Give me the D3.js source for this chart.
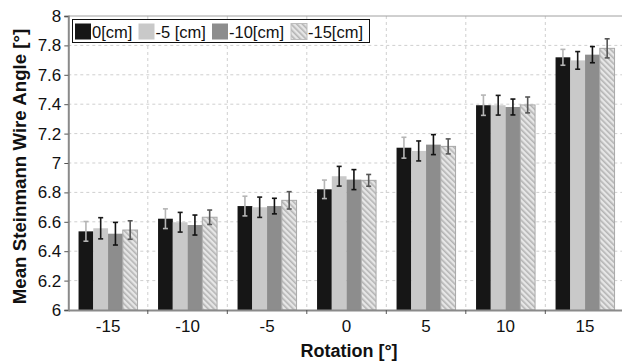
<!DOCTYPE html>
<html><head><meta charset="utf-8">
<script src="https://cdn.jsdelivr.net/npm/d3@7/dist/d3.min.js"></script>
<style>
html,body{margin:0;padding:0;background:#fff;}
svg{display:block;font-family:"Liberation Sans",Arial,sans-serif;}
</style></head>
<body>
<svg id="chart" width="622" height="364"></svg>
<script>
const categories = ["-15","-10","-5","0","5","10","15"];
const seriesNames = ["0[cm]","-5 [cm]","-10[cm]","-15[cm]"];
const values0  = [6.535, 6.621, 6.707, 6.821, 7.104, 7.393, 7.719];
const values5  = [6.556, 6.597, 6.699, 6.910, 7.082, 7.393, 7.698];
const values10 = [6.519, 6.578, 6.707, 6.887, 7.125, 7.381, 7.737];
const values15 = [6.544, 6.631, 6.746, 6.882, 7.113, 7.395, 7.780];
const err0  = [0.067, 0.067, 0.067, 0.063, 0.071, 0.069, 0.054];
const err5  = [0.072, 0.067, 0.069, 0.067, 0.068, 0.067, 0.060];
const err10 = [0.077, 0.068, 0.053, 0.068, 0.068, 0.054, 0.055];
const err15 = [0.063, 0.049, 0.059, 0.040, 0.051, 0.054, 0.065];
const yTicks = [6,6.2,6.4,6.6,6.8,7,7.2,7.4,7.6,7.8,8];

const seriesValues = [values0, values5, values10, values15];
const seriesErrors = [err0, err5, err10, err15];
const fills = ["#161616","#c9c9c9","#8d8d8d","url(#hatch)"];
const errColors = ["#b5b5b5","#1a1a1a","#111111","#555555"];

const svg = d3.select("#chart");
const defs = svg.append("defs");
const pat = defs.append("pattern").attr("id","hatch").attr("patternUnits","userSpaceOnUse")
  .attr("width",4).attr("height",4).attr("patternTransform","rotate(-45)");
pat.append("rect").attr("width",4).attr("height",4).attr("fill","#e6e6e6");
pat.append("rect").attr("width",1.6).attr("height",4).attr("fill","#b4b4b4");

const mLeft = 68.3, mRight = 624.8, mTop = 16, mBottom = 310;
const x0 = d3.scaleBand().domain(categories).range([mLeft, mRight]).paddingInner(0).paddingOuter(0);
const x1 = d3.scaleBand().domain(d3.range(4)).range([0, x0.bandwidth()]).paddingInner(0).paddingOuter(0.695);
const y = d3.scaleLinear().domain([6,8]).range([mBottom, mTop]);

// gridlines
const g = svg.append("g");
g.selectAll("line.hg").data(yTicks.filter(t=>t>6 && t<8)).join("line")
  .attr("x1", mLeft).attr("x2", 622).attr("y1", d=>y(d)).attr("y2", d=>y(d))
  .attr("stroke","#cfcfcf").attr("stroke-width",1).attr("stroke-dasharray","3,3");
g.selectAll("line.vg").data(categories.slice(1)).join("line")
  .attr("x1", d=>x0(d)).attr("x2", d=>x0(d)).attr("y1", mTop).attr("y2", mBottom)
  .attr("stroke","#cfcfcf").attr("stroke-width",1).attr("stroke-dasharray","3,3");
g.append("line").attr("x1",mLeft).attr("x2",622).attr("y1",y(8)).attr("y2",y(8))
  .attr("stroke","#a0a0a0").attr("stroke-width",1);

// bars
seriesValues.forEach((vals, si) => {
  const sg = svg.append("g");
  sg.selectAll("rect").data(vals).join("rect")
    .attr("x", (d,i)=>x0(categories[i]) + x1(si))
    .attr("width", x1.bandwidth())
    .attr("y", d=>y(d))
    .attr("height", d=>y(6)-y(d))
    .attr("fill", fills[si])
    .attr("stroke", si===3 ? "#a8a8a8" : "none")
    .attr("stroke-width", 1);
});
// error bars
seriesValues.forEach((vals, si) => {
  const eg = svg.append("g").attr("stroke", errColors[si]).attr("stroke-width",1.6);
  vals.forEach((v,i) => {
    const cx = x0(categories[i]) + x1(si) + x1.bandwidth()/2;
    const e = seriesErrors[si][i];
    eg.append("line").attr("x1",cx).attr("x2",cx).attr("y1",y(v+e)).attr("y2",y(v-e));
    eg.append("line").attr("x1",cx-2.5).attr("x2",cx+2.5).attr("y1",y(v+e)).attr("y2",y(v+e));
    eg.append("line").attr("x1",cx-2.5).attr("x2",cx+2.5).attr("y1",y(v-e)).attr("y2",y(v-e));
  });
});

// y axis
const yAxis = d3.axisLeft(y).tickValues(yTicks).tickSize(4).tickPadding(3)
  .tickFormat(d => d3.format("")(+d.toFixed(1)));
const ya = svg.append("g").attr("transform",`translate(${mLeft},0)`).call(yAxis);
ya.select(".domain").attr("stroke","#8a8a8a").attr("stroke-width",2);
ya.selectAll(".tick line").attr("stroke","#555");
ya.selectAll(".tick text").attr("font-size",17).attr("fill","#111").attr("font-family","Liberation Sans, Arial, sans-serif");

// x axis
const xAxis = d3.axisBottom(x0).tickSize(0).tickPadding(10);
const xa = svg.append("g").attr("transform",`translate(0,${mBottom})`).call(xAxis);
xa.select(".domain").attr("stroke","#8a8a8a").attr("stroke-width",2);
xa.selectAll(".tick text").attr("font-size",17).attr("fill","#111").attr("font-family","Liberation Sans, Arial, sans-serif");
xa.selectAll("line.bt").data(categories.slice(1)).join("line").attr("class","bt")
  .attr("x1",d=>x0(d)).attr("x2",d=>x0(d)).attr("y1",0).attr("y2",4).attr("stroke","#555");

// titles
svg.append("text").attr("x",349).attr("y",356.5).attr("text-anchor","middle")
  .attr("font-size",18).attr("font-weight","bold").attr("fill","#111").text("Rotation [°]");
svg.append("text").attr("transform","translate(26,166.5) rotate(-90)").attr("text-anchor","middle")
  .attr("font-size",18.7).attr("font-weight","bold").attr("fill","#111").text("Mean Steinmann Wire Angle [°]");

// legend
const lg = svg.append("g");
lg.append("rect").attr("x",72.5).attr("y",19.5).attr("width",297).attr("height",23)
  .attr("fill","#fff").attr("stroke","#111").attr("stroke-width",1);
const swX = [75, 138.5, 212, 291];
seriesNames.forEach((n, si) => {
  lg.append("rect").attr("x",swX[si]).attr("y",23.5).attr("width",16).attr("height",16)
    .attr("fill",fills[si]).attr("stroke", si===3 ? "#bdbdbd" : "none");
  lg.append("text").attr("x",swX[si]+17).attr("y",37.5).attr("font-size",16.5).attr("fill","#111").text(n);
});
</script>
</body></html>
